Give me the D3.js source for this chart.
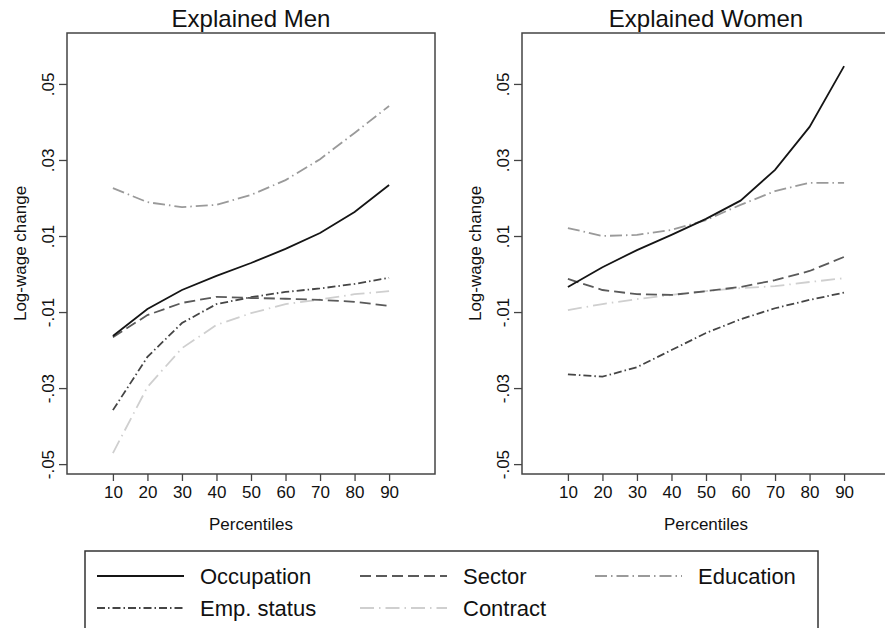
<!DOCTYPE html>
<html>
  <head>
    <meta charset="utf-8">
    <title>Explained log-wage change</title>
    <style>
      body{margin:0; background:#fff;}
      svg{font-family:"Liberation Sans", Arial, Helvetica, sans-serif; display:block;}
    </style>
    <script src="https://d3js.org/d3.v7.min.js"></script>
  </head>
  <body>
    <script>

        // percentiles on the x axis
        var percentiles = [10, 20, 30, 40, 50, 60, 70, 80, 90];
        var yTicks = [-0.05, -0.03, -0.01, 0.01, 0.03, 0.05];

        // Explained Men
        var menOccupation = [-0.0163, -0.0092, -0.0042, -0.0005, 0.0029, 0.0066, 0.0108, 0.0163, 0.0234];
        var menSector     = [-0.0166, -0.0108, -0.0076, -0.0060, -0.0063, -0.0065, -0.0068, -0.0073, -0.0084];
        var menEducation  = [0.0226, 0.0189, 0.0176, 0.0182, 0.0208, 0.0247, 0.0302, 0.0371, 0.0442];
        var menEmpStatus  = [-0.0358, -0.0218, -0.0129, -0.0079, -0.0061, -0.0047, -0.0038, -0.0026, -0.0010];
        var menContract   = [-0.0471, -0.0297, -0.0195, -0.0134, -0.0103, -0.0079, -0.0067, -0.0053, -0.0045];

        // Explained Women
        var womenOccupation = [-0.0034, 0.0018, 0.0063, 0.0103, 0.0145, 0.0193, 0.0274, 0.0387, 0.0547];
        var womenSector     = [-0.0013, -0.0042, -0.0053, -0.0055, -0.0045, -0.0034, -0.0016, 0.0008, 0.0045];
        var womenEducation  = [0.0121, 0.0100, 0.0103, 0.0116, 0.0142, 0.0182, 0.0218, 0.0240, 0.0240];
        var womenEmpStatus  = [-0.0264, -0.0270, -0.0245, -0.0200, -0.0155, -0.0119, -0.0090, -0.0068, -0.0049];
        var womenContract   = [-0.0095, -0.0079, -0.0066, -0.0055, -0.0045, -0.0037, -0.0032, -0.0021, -0.0011];

        // line styles, one per component
        var styles = {
            "Occupation":  {color: "#151515", dash: null},
            "Sector":      {color: "#5a5a5a", dash: "11,5"},
            "Education":   {color: "#9a9a9a", dash: "12,4,1.5,4"},
            "Emp. status": {color: "#454545", dash: "8,3,1.5,3"},
            "Contract":    {color: "#cfcfcf", dash: "14,5,1.5,5"}
        };

        var panels = [
            {title: "Explained Men", left: 67, series: {
                "Occupation": menOccupation, "Sector": menSector, "Education": menEducation,
                "Emp. status": menEmpStatus, "Contract": menContract}},
            {title: "Explained Women", left: 522, series: {
                "Occupation": womenOccupation, "Sector": womenSector, "Education": womenEducation,
                "Emp. status": womenEmpStatus, "Contract": womenContract}}
        ];

        var width = 885, height = 628;
        var plotW = 368, plotTop = 33, plotBottom = 474;
        var fontFam = "'Liberation Sans', Arial, Helvetica, sans-serif";

        var svg = d3.select("body").append("svg")
            .attr("width", width)
            .attr("height", height);

        var y = d3.scaleLinear().domain([-0.0526, 0.0634]).range([plotBottom, plotTop]);
        var fmt = function (d) { return d.toFixed(2).replace("0.", "."); };

        panels.forEach(function (p) {
            var x = d3.scaleLinear().domain([-3.3, 103.3]).range([p.left, p.left + plotW]);
            var g = svg.append("g");

            // plot frame
            g.append("rect")
                .attr("x", p.left).attr("y", plotTop)
                .attr("width", plotW).attr("height", plotBottom - plotTop)
                .attr("fill", "none").attr("stroke", "#444").attr("stroke-width", 1.5);

            // y axis with rotated labels
            var ya = g.append("g")
                .attr("transform", "translate(" + p.left + ",0)")
                .call(d3.axisLeft(y).tickValues(yTicks).tickFormat(fmt).tickSize(8));
            ya.attr("font-family", fontFam).attr("font-size", null);
            ya.select(".domain").remove();
            ya.selectAll("line").attr("stroke", "#444").attr("stroke-width", 1.3);
            ya.selectAll("text")
                .attr("x", null).attr("dy", "0.35em")
                .attr("transform", "translate(-19,0) rotate(-90)")
                .attr("text-anchor", "middle")
                .style("font-size", "17px").attr("fill", "#111");

            // x axis
            var xa = g.append("g")
                .attr("transform", "translate(0," + plotBottom + ")")
                .call(d3.axisBottom(x).tickValues(percentiles).tickSize(7).tickPadding(5));
            xa.attr("font-family", fontFam).attr("font-size", null);
            xa.select(".domain").remove();
            xa.selectAll("line").attr("stroke", "#444").attr("stroke-width", 1.3);
            xa.selectAll("text").style("font-size", "17px").attr("fill", "#111");

            // titles
            var cx = p.left + plotW / 2;
            g.append("text")
                .attr("x", cx).attr("y", 27)
                .attr("text-anchor", "middle")
                .style("font-size", "24px").attr("fill", "#111")
                .text(p.title);

            g.append("text")
                .attr("x", cx).attr("y", 530)
                .attr("text-anchor", "middle")
                .style("font-size", "17px").attr("fill", "#111")
                .text("Percentiles");

            g.append("text")
                .attr("transform", "translate(" + (p.left - 47) + "," + ((plotTop + plotBottom) / 2) + ") rotate(-90)")
                .attr("dy", "0.35em")
                .attr("text-anchor", "middle")
                .style("font-size", "17px").attr("fill", "#111")
                .text("Log-wage change");

            // series lines, lightest first so dark ones stay on top
            var line = d3.line()
                .x(function (d, i) { return x(percentiles[i]); })
                .y(function (d) { return y(d); });

            ["Contract", "Education", "Emp. status", "Sector", "Occupation"].forEach(function (name) {
                g.append("path")
                    .datum(p.series[name])
                    .attr("d", line)
                    .attr("fill", "none")
                    .attr("stroke", styles[name].color)
                    .attr("stroke-width", 1.8)
                    .attr("stroke-dasharray", styles[name].dash);
            });
        });

        // legend
        var legendItems = [
            {name: "Occupation", x: 97, y: 576},
            {name: "Sector", x: 360, y: 576},
            {name: "Education", x: 595, y: 576},
            {name: "Emp. status", x: 97, y: 608},
            {name: "Contract", x: 360, y: 608}
        ];

        var lg = svg.append("g");
        lg.append("rect")
            .attr("x", 85).attr("y", 551)
            .attr("width", 733).attr("height", 100)
            .attr("fill", "none").attr("stroke", "#333").attr("stroke-width", 1.5);

        var item = lg.selectAll(".item").data(legendItems)
            .enter().append("g")
            .attr("class", "item");

        item.append("line")
            .attr("x1", function (d) { return d.x; })
            .attr("x2", function (d) { return d.x + 87; })
            .attr("y1", function (d) { return d.y; })
            .attr("y2", function (d) { return d.y; })
            .attr("stroke", function (d) { return styles[d.name].color; })
            .attr("stroke-width", 1.8)
            .attr("stroke-dasharray", function (d) { return styles[d.name].dash; });

        item.append("text")
            .attr("x", function (d) { return d.x + 103; })
            .attr("y", function (d) { return d.y + 8; })
            .style("font-size", "22px").attr("fill", "#111")
            .text(function (d) { return d.name; });

    </script>
  </body>
</html>
